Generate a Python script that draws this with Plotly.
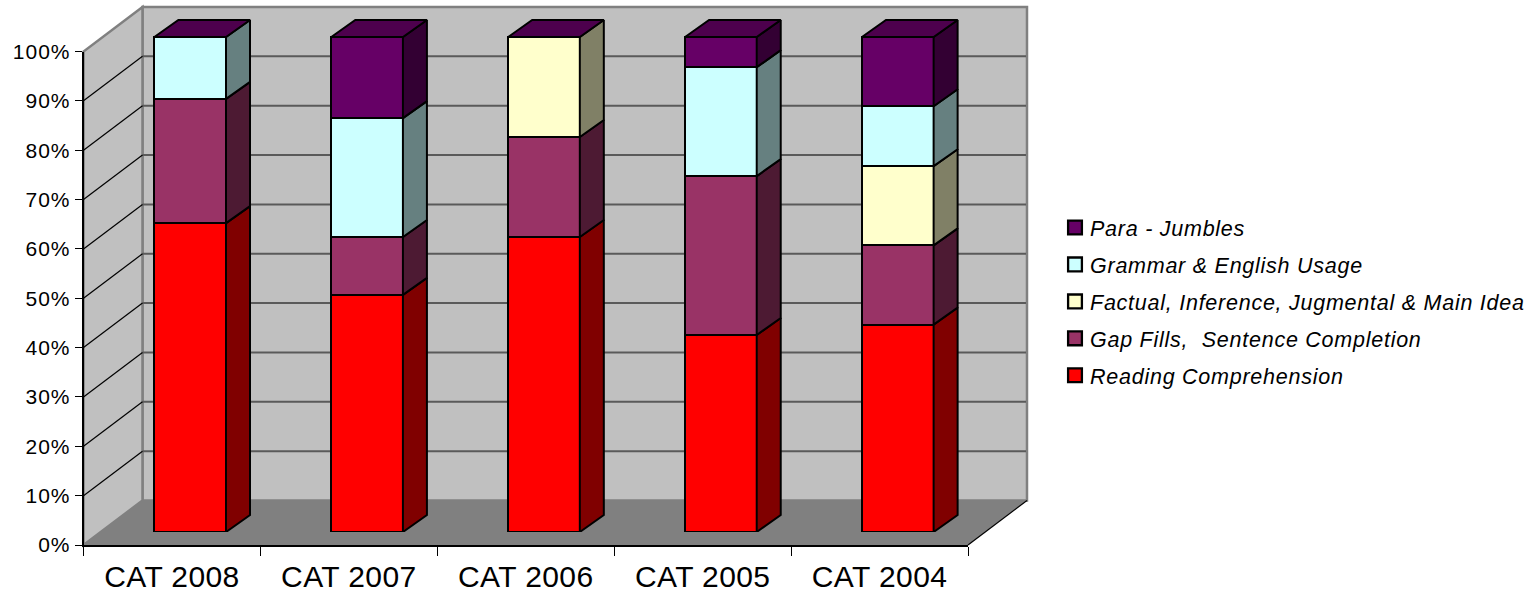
import plotly.graph_objects as go

W, H = 1537, 596

categories = ["CAT 2008", "CAT 2007", "CAT 2006", "CAT 2005", "CAT 2004"]
reading = [62.4, 47.9, 59.6, 39.8, 41.9]
gap_fills = [25.1, 11.7, 20.2, 32.1, 16.0]
factual = [0, 0, 20.2, 0, 16.0]
grammar = [12.5, 24.0, 0, 22.0, 12.1]
para = [0, 16.4, 0, 6.1, 14.0]
y_ticks = list(range(0, 101, 10))

series = [
    ("Reading Comprehension", reading, "#FF0000", "#800000"),
    ("Gap Fills,  Sentence Completion", gap_fills, "#993366", "#4D1A33"),
    ("Factual, Inference, Jugmental & Main Idea", factual, "#FFFFCC", "#808066"),
    ("Grammar & English Usage", grammar, "#CCFFFF", "#668080"),
    ("Para - Jumbles", para, "#660066", "#330033"),
]
top_color = "#4D004D"

# pixel geometry of the pseudo-3D frame
FL, FR, F0, F100 = 83.5, 968.0, 545.0, 51.5   # front plane
DX, DY = 59.0, 44.5                            # wall depth
BAR0 = 532.0                                   # bar front baseline
PX_CAT = (FR - FL) / len(categories)
PX_PCT = (F0 - F100) / 100.0
BAR_PX_PCT = 4.95
BAR_SHIFT = 18.25
BAR_W = 0.405
BAR_DX = 24.0 / PX_CAT
BAR_DY = 17.0 / BAR_PX_PCT
EDGE = 2.0


def px(x):
    return x / W


def py(y):
    return 1 - y / H


def poly(points, fill, line=None, lw=1.0):
    path = "M" + " L".join(f"{px(a):.5f},{py(b):.5f}" for a, b in points) + " Z"
    return dict(type="path", xref="paper", yref="paper", path=path, fillcolor=fill,
                line=dict(color=line or fill, width=lw if line else 0), layer="below")


def seg(x0, y0, x1, y1, color, lw):
    return dict(type="line", xref="paper", yref="paper", x0=px(x0), y0=py(y0), x1=px(x1), y1=py(y1),
                line=dict(color=color, width=lw), layer="below")


shapes = [
    poly([(FL + DX, F100 - DY), (FR + DX, F100 - DY), (FR + DX, F0 - DY), (FL + DX, F0 - DY)], "#C0C0C0", "#808080", 2.5),
    poly([(FL, F0), (FL, F100), (FL + DX, F100 - DY), (FL + DX, F0 - DY)], "#C0C0C0", "#808080", 2.5),
    poly([(FL, F0), (FL + DX, F0 - DY), (FR + DX, F0 - DY), (FR, F0)], "#808080"),
]
for t in y_ticks[1:-1]:
    yy = F0 - t * PX_PCT
    shapes.append(seg(FL + DX, yy - DY, FR + DX - 1, yy - DY, "#5A5A5A", 2))
    shapes.append(seg(FL, yy, FL + DX, yy - DY, "#000000", 1.2))
shapes.append(seg(FR, F0, FR + DX, F0 - DY, "#000000", 1.2))

fig = go.Figure()

# front-plane axes carry the labels
fig.add_trace(go.Scatter(x=categories, y=[None] * len(categories), xaxis="x", yaxis="y",
                         showlegend=False, hoverinfo="skip"))

positions = list(range(len(categories)))
cum = [0.0] * len(categories)
for rank, (name, values, face, side) in enumerate(series):
    fig.add_trace(go.Bar(
        x=positions, y=[v if v else None for v in values], name=name, xaxis="x2", yaxis="y2",
        width=BAR_W, marker=dict(color=face, line=dict(color="#000000", width=EDGE)),
        legendgroup=name, legendrank=100 - rank,
    ))
    sx, sy = [], []
    for i, v in enumerate(values):
        if not v:
            continue
        r = i + BAR_W / 2
        a, b = cum[i], cum[i] + v
        sx += [r, r + BAR_DX, r + BAR_DX, r, r, None]
        sy += [a, a + BAR_DY, b + BAR_DY, b, a, None]
    fig.add_trace(go.Scatter(x=sx, y=sy, xaxis="x2", yaxis="y2", mode="lines", fill="toself", fillcolor=side,
                             line=dict(color="#000000", width=EDGE), showlegend=False, hoverinfo="skip",
                             legendgroup=name, legendrank=100 - rank))
    cum = [c + v for c, v in zip(cum, values)]

# top cap of each stack
tx, ty = [], []
for i, total in enumerate(cum):
    l, r = i - BAR_W / 2, i + BAR_W / 2
    tx += [l, r, r + BAR_DX, l + BAR_DX, l, None]
    ty += [total, total, total + BAR_DY, total + BAR_DY, total, None]
fig.add_trace(go.Scatter(x=tx, y=ty, xaxis="x2", yaxis="y2", mode="lines", fill="toself", fillcolor=top_color,
                         line=dict(color="#000000", width=EDGE), showlegend=False, hoverinfo="skip"))

FONT = "Liberation Sans"
b_left, b_right = FL + BAR_SHIFT, FR + BAR_SHIFT + DX
b_top = 4.0
fig.update_layout(
    template="none",
    width=W, height=H, margin=dict(l=0, r=0, t=0, b=0, autoexpand=False), autosize=False,
    paper_bgcolor="white", plot_bgcolor="rgba(0,0,0,0)",
    barmode="stack", shapes=shapes, font=dict(family=FONT, color="#000000"),
    xaxis=dict(domain=[px(FL), px(FR)], type="category", range=[-0.5, 4.5], tickson="boundaries",
               ticks="outside", ticklen=9, tickcolor="#000000", tickwidth=1, showline=True, linecolor="#000000",
               linewidth=1.5, showgrid=False, zeroline=False, tickfont=dict(size=30), anchor="y", fixedrange=True,
               automargin=False, ticklabelstandoff=4),
    yaxis=dict(domain=[py(F0), py(F100)], range=[0, 100], tickmode="array", tickvals=y_ticks,
               ticktext=[f"{t}%" for t in y_ticks], ticks="outside", ticklen=7, tickcolor="#000000", tickwidth=1,
               showline=True, linecolor="#000000", linewidth=1.5, showgrid=False, zeroline=False,
               tickfont=dict(size=21), anchor="x", fixedrange=True, automargin=False),
    xaxis2=dict(domain=[px(b_left), px(b_right)], range=[-0.5, -0.5 + (b_right - b_left) / PX_CAT], visible=False,
                anchor="y2", fixedrange=True, automargin=False),
    yaxis2=dict(domain=[py(BAR0), py(b_top)], range=[0, (BAR0 - b_top) / BAR_PX_PCT], visible=False, anchor="x2",
                fixedrange=True, automargin=False),
    legend=dict(x=px(1050), xanchor="left", y=py(207), yanchor="top", traceorder="grouped",
                tracegroupgap=6, font=dict(size=21.5, style="italic"), bgcolor="rgba(0,0,0,0)", itemwidth=30,
                groupclick="toggleitem"),
    showlegend=True,
)

css = (
    ".legendtext{letter-spacing:0.75px}"
    ".ytick text{letter-spacing:1px}"
    ".xtick text{letter-spacing:0.4px}"
    ".legendpoints path{transform:translateX(25px) scale(1.15)}"
    ".legend .scrollbox{clip-path:none !important}"
)
post = (
    "document.body.style.margin='0';"
    "var s=document.createElement('style');s.textContent=" + repr(css) + ";document.head.appendChild(s);"
)
fig.write_html("out.html", post_script=post, config={"displayModeBar": False})
